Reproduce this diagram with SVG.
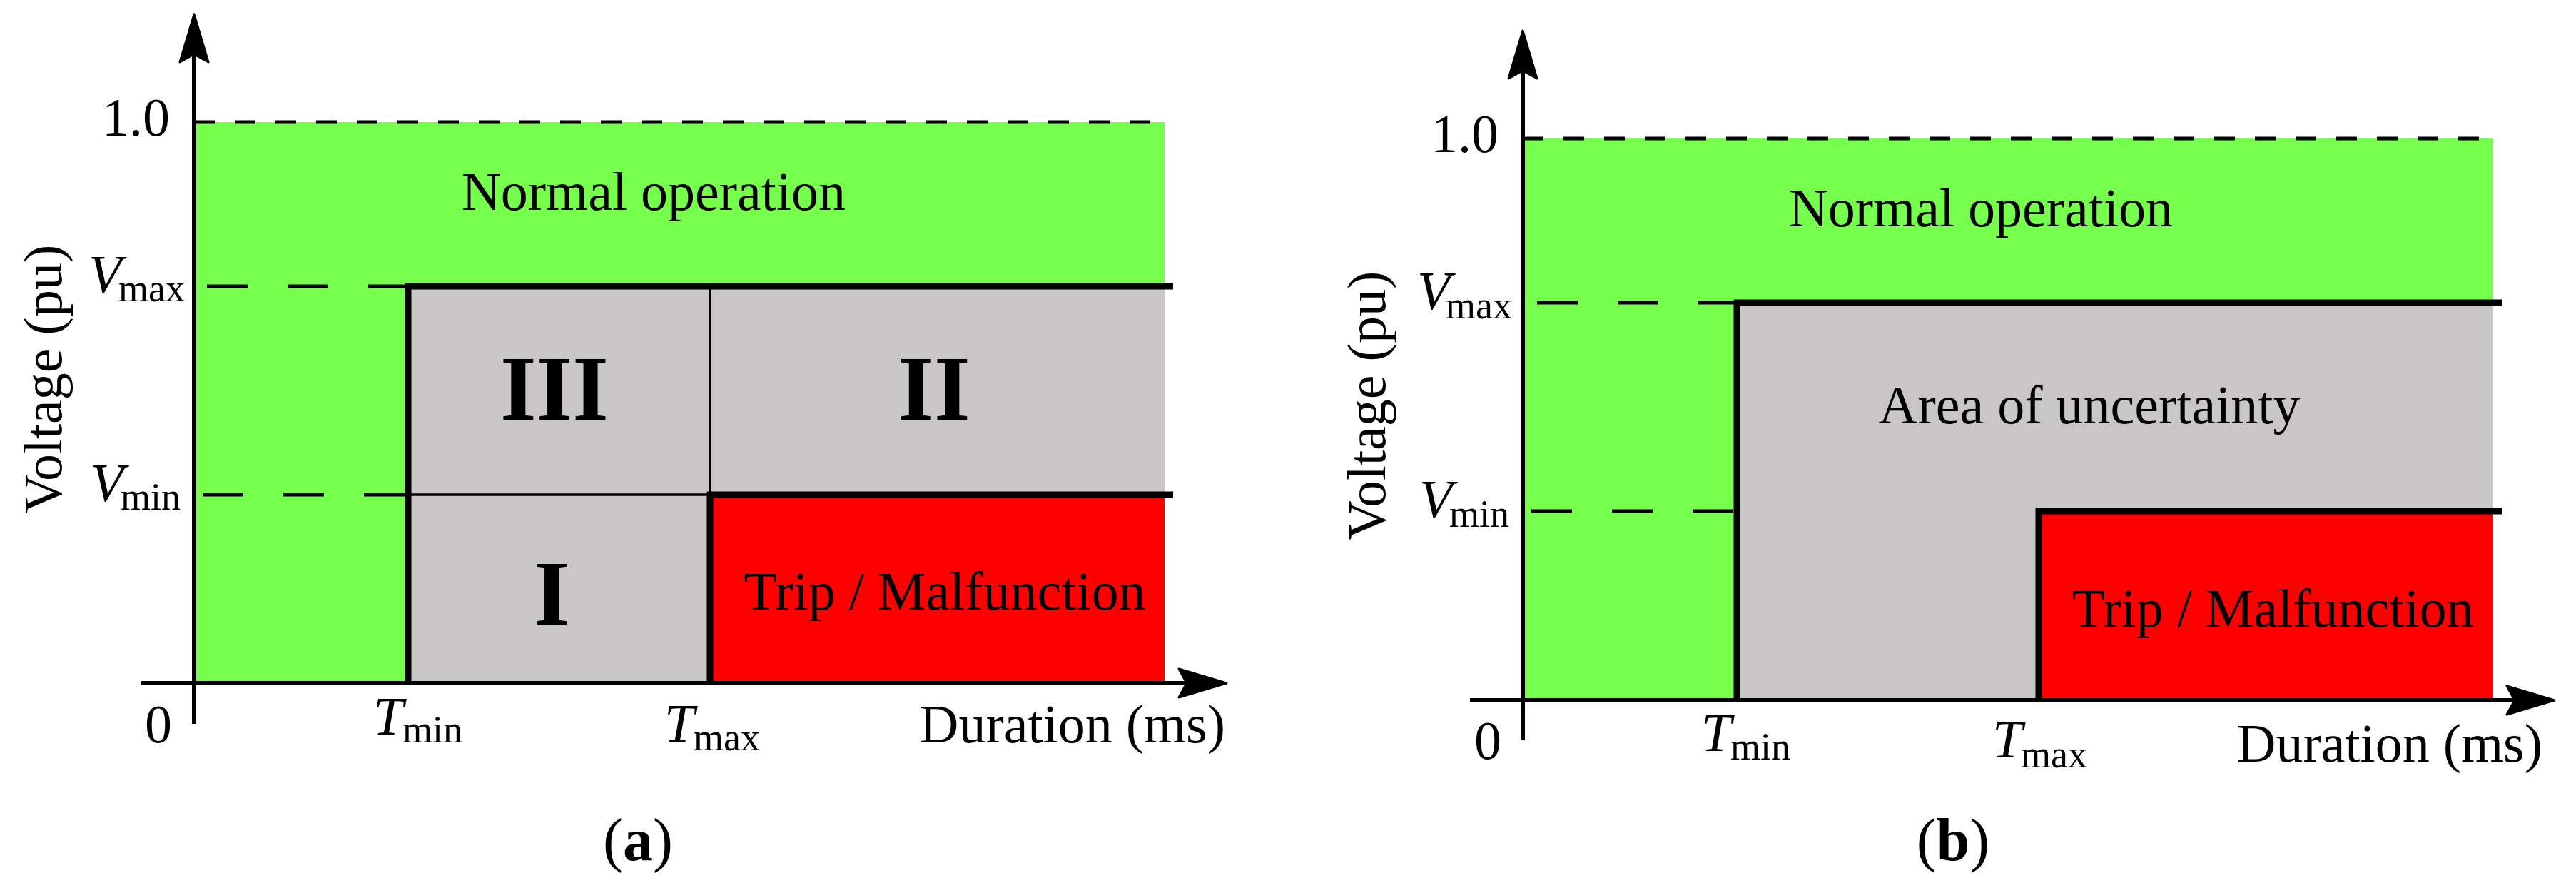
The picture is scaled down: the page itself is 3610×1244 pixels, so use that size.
<svg xmlns="http://www.w3.org/2000/svg" width="3610" height="1244" viewBox="0 0 3610 1244">
<style>
.bg{fill:#ffffff}
.green{fill:#77FF4D}
.gray{fill:#C8C7C5}
.red{fill:#FF0000}
.axis{stroke:#000;stroke-width:6;fill:none}
.thick{stroke:#000;stroke-width:9;fill:none}
.thin{stroke:#000;stroke-width:3.5;fill:none}
.dash1{stroke:#000;stroke-width:5;fill:none;stroke-dasharray:29 28}
.dash2{stroke:#000;stroke-width:5;fill:none;stroke-dasharray:57 56}
.head{fill:#000;stroke:#000;stroke-width:3;stroke-linejoin:round}
text{font-family:"Liberation Serif","Times New Roman",serif;font-size:76px;fill:#000}
.it{font-style:italic}
.sub{font-size:54px}
.big{font-size:130px;font-weight:bold}
.mid{text-anchor:middle}
.end{text-anchor:end}
.cap{font-size:84px}
</style>
<defs>
<path id="ah" class="head" d="M0,0 L20,67 L0,56 L-20,67 Z"/>
</defs>
<rect class="bg" x="0" y="0" width="3610" height="1244"/>

<!-- Panel (a) -->
<g id="a-normal">
<rect class="green" x="272" y="171" width="1360" height="786"/>
<text class="mid" x="916" y="294">Normal operation</text>
</g>
<g id="a-uncertain">
<rect class="gray" x="572" y="401" width="1060" height="556"/>
</g>
<g id="a-region-III">
<text class="big mid" x="777" y="588">III</text>
</g>
<g id="a-region-II">
<text class="big mid" x="1309" y="588">II</text>
</g>
<g id="a-region-I">
<text class="big mid" x="773" y="875">I</text>
</g>
<g id="a-trip">
<rect class="red" x="995" y="693" width="637" height="264"/>
<text class="mid" x="1324" y="854">Trip / Malfunction</text>
</g>
<g id="a-labels">
<text class="end" x="238" y="190">1.0</text>
<text class="it" x="124" y="410">V</text><text class="sub" x="166" y="422">max</text>
<text class="it" x="127" y="702">V</text><text class="sub" x="169" y="714">min</text>
<text x="203" y="1040">0</text>
<text class="it" x="523" y="1029">T</text><text class="sub" x="564" y="1040">min</text>
<text class="it" x="931" y="1039">T</text><text class="sub" x="972" y="1051">max</text>
<text class="end" x="1717" y="1040">Duration (ms)</text>
<text class="mid" transform="translate(86,531) rotate(-90)">Voltage (pu)</text>
<text class="cap mid" x="894" y="1205">(<tspan font-weight="bold">a</tspan>)</text>
</g>

<!-- Panel (b) -->
<g id="b-normal">
<rect class="green" x="2134" y="194" width="1360" height="787"/>
<text class="mid" x="2776" y="317">Normal operation</text>
</g>
<g id="b-uncertain">
<rect class="gray" x="2434" y="424" width="1060" height="557"/>
<text class="mid" x="2928" y="593">Area of uncertainty</text>
</g>
<g id="b-trip">
<rect class="red" x="2857" y="716" width="637" height="265"/>
<text class="mid" x="3185" y="878">Trip / Malfunction</text>
</g>
<g id="b-labels">
<text class="end" x="2100" y="213">1.0</text>
<text class="it" x="1986" y="433">V</text><text class="sub" x="2026" y="446">max</text>
<text class="it" x="1989" y="725">V</text><text class="sub" x="2031" y="738">min</text>
<text x="2066" y="1063">0</text>
<text class="it" x="2384" y="1052">T</text><text class="sub" x="2425" y="1064">min</text>
<text class="it" x="2792" y="1061">T</text><text class="sub" x="2832" y="1075">max</text>
<text class="end" x="3563" y="1067">Duration (ms)</text>
<text class="mid" transform="translate(1941,568) rotate(-90)">Voltage (pu)</text>
<text class="cap mid" x="2737" y="1205">(<tspan font-weight="bold">b</tspan>)</text>
</g>

<g id="connectors">
<!-- panel a boundaries -->
<line class="dash1" x1="272" y1="171" x2="1632" y2="171"/>
<line class="dash2" x1="290" y1="401" x2="572" y2="401"/>
<line class="thick" x1="568" y1="401" x2="1644" y2="401"/>
<line class="dash2" x1="284" y1="693" x2="572" y2="693"/>
<line class="thin" x1="572" y1="693" x2="995" y2="693"/>
<line class="thick" x1="991" y1="693" x2="1644" y2="693"/>
<line class="thick" x1="572" y1="397" x2="572" y2="957"/>
<line class="thin" x1="995" y1="401" x2="995" y2="693"/>
<line class="thick" x1="995" y1="689" x2="995" y2="957"/>
<!-- panel a axes -->
<line class="axis" x1="272" y1="1014" x2="272" y2="70"/>
<line class="axis" x1="198" y1="957" x2="1670" y2="957"/>
<use href="#ah" transform="translate(272,20)"/>
<use href="#ah" transform="translate(1719,957) rotate(90)"/>

<!-- panel b boundaries -->
<line class="dash1" x1="2134" y1="194" x2="3494" y2="194"/>
<line class="dash2" x1="2154" y1="424" x2="2434" y2="424"/>
<line class="thick" x1="2430" y1="424" x2="3506" y2="424"/>
<line class="dash2" x1="2146" y1="716" x2="2434" y2="716"/>
<line class="thick" x1="2853" y1="716" x2="3506" y2="716"/>
<line class="thick" x1="2434" y1="420" x2="2434" y2="981"/>
<line class="thick" x1="2857" y1="712" x2="2857" y2="981"/>
<!-- panel b axes -->
<line class="axis" x1="2134" y1="1037" x2="2134" y2="93"/>
<line class="axis" x1="2060" y1="981" x2="3530" y2="981"/>
<use href="#ah" transform="translate(2134,43)"/>
<use href="#ah" transform="translate(3580,981) rotate(90)"/>
</g>
</svg>
